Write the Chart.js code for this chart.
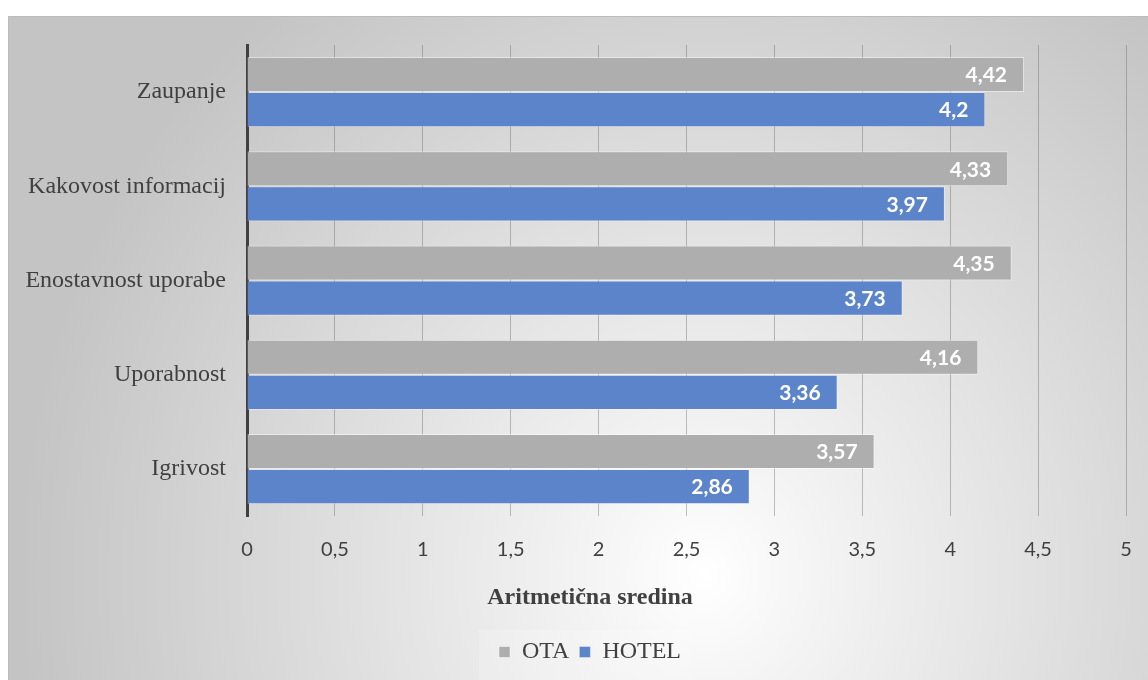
<!DOCTYPE html>
<html>
<head>
<meta charset="utf-8">
<script src="https://cdn.jsdelivr.net/npm/chart.js@4.4.1/dist/chart.umd.min.js"></script>
<style>
  html, body { margin: 0; padding: 0; background: #ffffff; width: 1148px; height: 680px; overflow: hidden; }
  #frame {
    position: absolute; left: 8px; top: 16px; width: 1140px; height: 664px;
    background: radial-gradient(ellipse 60% 110% at 61% 84%, #ffffff 0%, #f3f3f3 18%, #dcdcdc 58%, #c4c4c4 100%);
    box-shadow: inset 1px 1px 0 #bcbcbc;
  }
  canvas { display: block; }
</style>
</head>
<body>
<div id="frame"><canvas id="chart" width="1140" height="664"></canvas></div>
<script>
// Survey means per dimension, for online travel agencies vs. hotel sites
const categories = ['Zaupanje', 'Kakovost informacij', 'Enostavnost uporabe', 'Uporabnost', 'Igrivost'];
const otaValues = [4.42, 4.33, 4.35, 4.16, 3.57];
const hotelValues = [4.2, 3.97, 3.73, 3.36, 2.86];
const seriesNames = ['OTA', 'HOTEL'];
const axisTitle = 'Aritmetična sredina';
const axisMin = 0;
const axisMax = 5;
const axisStep = 0.5;

const TEXT = '#404040';
const SERIF = '"Liberation Serif", "Times New Roman", serif';
const SANS = 'Lato, "Open Sans", sans-serif';

const decimalComma = v => String(v).replace('.', ',');

// White value labels drawn just inside the end of each bar
const barValueLabels = {
  id: 'barValueLabels',
  afterDraw(chart) {
    const ctx = chart.ctx;
    ctx.save();
    ctx.font = 'bold 21px ' + SANS;
    ctx.fillStyle = '#ffffff';
    ctx.textAlign = 'right';
    ctx.textBaseline = 'middle';
    chart.data.datasets.forEach((ds, i) => {
      chart.getDatasetMeta(i).data.forEach((bar, j) => {
        ctx.fillText(decimalComma(ds.data[j]), bar.x - 17, bar.y + 1);
      });
    });
    ctx.restore();
  }
};

// Faint lighter panel behind the legend entries
const legendPanel = {
  id: 'legendPanel',
  beforeDraw(chart) {
    const lg = chart.legend;
    if (!lg || !lg.legendHitBoxes || !lg.legendHitBoxes.length) return;
    const boxes = lg.legendHitBoxes;
    const left = Math.min(...boxes.map(b => b.left)) - 20;
    const right = Math.max(...boxes.map(b => b.left + b.width)) + 10;
    const ctx = chart.ctx;
    ctx.save();
    ctx.fillStyle = 'rgba(255,255,255,0.18)';
    ctx.fillRect(left, lg.top, right - left, chart.height - lg.top);
    ctx.restore();
  }
};

new Chart(document.getElementById('chart'), {
  type: 'bar',
  data: {
    labels: categories,
    datasets: [
      {
        label: seriesNames[0],
        data: otaValues,
        backgroundColor: '#AEAEAE',
        borderColor: 'rgba(255,255,255,0.45)',
        borderWidth: 1,
        categoryPercentage: 0.745,
        barPercentage: 1.0
      },
      {
        label: seriesNames[1],
        data: hotelValues,
        backgroundColor: '#5B84CA',
        borderColor: 'rgba(255,255,255,0.35)',
        borderWidth: 1,
        categoryPercentage: 0.745,
        barPercentage: 1.0
      }
    ]
  },
  options: {
    indexAxis: 'y',
    responsive: false,
    animation: false,
    devicePixelRatio: 1,
    layout: { padding: { top: 29, right: 22, bottom: 6, left: 46 } },
    scales: {
      x: {
        min: axisMin,
        max: axisMax,
        z: 1,
        afterFit(scale) {
          scale.paddingLeft = 0;
          scale.paddingRight = 0;
        },
        ticks: {
          stepSize: axisStep,
          color: TEXT,
          padding: 21,
          font: { family: SANS, size: 20 },
          callback: v => decimalComma(v)
        },
        grid: { color: 'rgba(100,100,100,0.4)', lineWidth: 1, drawTicks: false },
        border: { display: false }
      },
      y: {
        z: 1,
        afterFit(scale) {
          // fixed label column; category names may extend into the left margin
          scale.width = 193;
          scale.paddingTop = 0;
          scale.paddingBottom = 0;
          scale._computeLabelArea = () => null;
        },
        ticks: {
          color: TEXT,
          padding: 21,
          font: { family: SERIF, size: 24 }
        },
        grid: { display: false, drawTicks: false },
        border: { display: true, color: '#404040', width: 3 }
      }
    },
    plugins: {
      title: {
        display: true,
        text: axisTitle,
        position: 'bottom',
        weight: 500,
        color: TEXT,
        font: { family: SERIF, size: 24, weight: 'bold' },
        padding: { top: 1, bottom: 18 }
      },
      legend: {
        position: 'bottom',
        labels: {
          color: TEXT,
          boxWidth: 11,
          boxHeight: 11,
          padding: 10,
          font: { family: SERIF, size: 24 }
        }
      },
      tooltip: { enabled: false }
    }
  },
  plugins: [legendPanel, barValueLabels]
});
</script>
</body>
</html>
